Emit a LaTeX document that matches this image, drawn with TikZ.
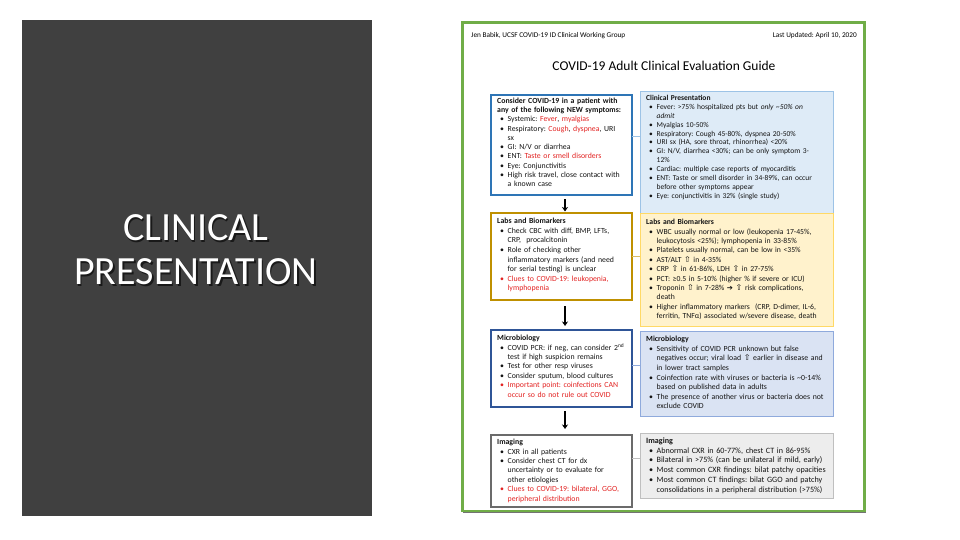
\documentclass[tikz,border=0pt]{standalone}
\usepackage{fontspec}
\setmainfont{Carlito}
\newfontfamily\symf{DejaVu Sans}
\usepackage{graphicx}
\usetikzlibrary{arrows.meta}
\definecolor{panel}{HTML}{404040}
\definecolor{frameg}{HTML}{70AD47}
\definecolor{lb1}{HTML}{2E75B6}
\definecolor{lb2}{HTML}{BF9000}
\definecolor{lb3}{HTML}{2F5597}
\definecolor{lb4}{HTML}{6B6B6B}
\definecolor{r1f}{HTML}{DEEBF7}\definecolor{r1d}{HTML}{9DC3E6}
\definecolor{r2f}{HTML}{FFF2CC}\definecolor{r2d}{HTML}{FFD966}
\definecolor{r3f}{HTML}{DAE3F3}\definecolor{r3d}{HTML}{8FAADC}
\definecolor{r4f}{HTML}{EDEDED}\definecolor{r4d}{HTML}{BFBFBF}
\definecolor{txtc}{HTML}{141414}
\definecolor{redt}{HTML}{E32322}
\frenchspacing
\newcommand{\nl}{\hfil\break}
\newcommand{\itm}{\par\hangindent=10.5pt\hangafter=1\noindent\makebox[10.5pt][l]{\hspace{3pt}\textbullet}}
\newcommand{\ritm}[1]{\par\hangindent=10.5pt\hangafter=1\noindent{\color{redt}\makebox[10.5pt][l]{\hspace{3pt}\textbullet}#1}}
\newcommand{\hd}[1]{\textbf{#1}}
\newcommand{\rd}[1]{\textcolor{redt}{#1}}
\newcommand{\upa}{{\symf\scalebox{1.05}{⇧}}}
\newcommand{\rar}{{\symf\scalebox{0.95}{➔}}}
\begin{document}
\begin{tikzpicture}[x=1pt,y=-1pt,
  box/.style={draw, anchor=north west, inner sep=0pt, outer sep=0pt},
  lbox/.style={box, line width=1.6pt, fill=white},
  rbox/.style={box, line width=0.8pt},
  txt/.style={inner sep=0pt, anchor=north west, align=left, text=txtc,
    font=\frenchspacing\fontsize{7.8}{9.4}\selectfont},
  ltxt/.style={txt, text width=134pt},
  rtxt/.style={txt, text width=186pt},
  flow/.style={line width=1.3pt, -{Stealth[length=4.5pt,width=6pt]}},
  conn/.style={line width=0.8pt}]
\useasboundingbox (0,0) rectangle (960,540);
\fill[white] (0,0) rectangle (960,540);
% left panel
\fill[panel] (22,20) rectangle (372,516);
\node[font=\fontsize{40}{44}\selectfont, text=black, opacity=0.6, align=center] (ptsh) at (197.5,251.5) {CLINICAL\\PRESENTATION};
\node[font=\fontsize{40}{44}\selectfont, text=white, align=center] (pt) at (196,250) {CLINICAL\\PRESENTATION};
% header
\node[font=\fontsize{7.3}{8}\selectfont, anchor=west, inner sep=0pt] (hl) at (471,36) {Jen Babik, UCSF COVID-19 ID Clinical Working Group};
\node[font=\fontsize{7.3}{8}\selectfont, anchor=east, inner sep=0pt] (hr) at (857,36) {Last Updated: April 10, 2020};
\node[font=\fontsize{13.5}{15}\selectfont, inner sep=0pt] (title) at (664,66) {COVID-19 Adult Clinical Evaluation Guide};
% right boxes
\node[rbox, fill=r1f, draw=r1d, minimum width=193pt, minimum height=122pt] (R1) at (640,91) {};
\node[rbox, fill=r2f, draw=r2d, minimum width=193pt, minimum height=113pt] (R2) at (640,213) {};
\node[rbox, fill=r3f, draw=r3d, minimum width=193pt, minimum height=85pt] (R3) at (640,331) {};
\node[rbox, fill=r4f, draw=r4d, minimum width=193pt, minimum height=65pt] (R4) at (640,433) {};
% left boxes
\node[lbox, draw=lb1, minimum width=141pt, minimum height=100pt] (L1) at (491,95) {};
\node[lbox, draw=lb2, minimum width=141pt, minimum height=87pt] (L2) at (491,213) {};
\node[lbox, draw=lb3, minimum width=141pt, minimum height=77pt] (L3) at (491,330) {};
\node[lbox, draw=lb4, minimum width=141pt, minimum height=72pt] (L4) at (491,435) {};
% connectors
\draw[conn, draw=r1d] ([yshift=9pt]L1.east) -- ([yshift=9pt]L1.east -| R1.west);
\draw[conn, draw=lb2!60] (L2.east) -- (L2.east -| R2.west);
\draw[conn, draw=r3d] ([yshift=3.5pt]L3.east) -- ([yshift=3.5pt]L3.east -| R3.west);
\draw[conn, draw=r4d] ([yshift=13pt]L4.east) -- ([yshift=13pt]L4.east -| R4.west);
% arrows
\draw[flow] ([xshift=3.5pt,yshift=-4pt]L1.south) -- ([xshift=3.5pt,yshift=1.5pt]L2.north);
\draw[flow] ([xshift=3.5pt,yshift=-6pt]L2.south) -- ([xshift=3.5pt,yshift=4pt]L3.north);
\draw[flow] ([xshift=3.5pt,yshift=-4pt]L3.south) -- ([xshift=3.5pt,yshift=6pt]L4.north);
% left texts
\node[ltxt, font=\fontsize{7.8}{9.3}\selectfont] (L1t) at ([xshift=6pt,yshift=-2.5pt]L1.north west) {%
\hd{Consider COVID-19 in a patient with\nl any of the following NEW symptoms:}
\itm Systemic: \rd{Fever}, \rd{myalgias}
\itm Respiratory: \rd{Cough}, \rd{dyspnea}, URI\nl sx
\itm GI: N/V or diarrhea
\itm ENT: \rd{Taste or smell disorders}
\itm Eye: Conjunctivitis
\itm High risk travel, close contact with\nl a known case\par};
\node[ltxt, font=\fontsize{7.8}{9.6}\selectfont] (L2t) at ([xshift=6pt,yshift=-5pt]L2.north west) {%
\hd{Labs and Biomarkers}
\itm Check CBC with diff, BMP, LFTs,\nl CRP,\ \ procalcitonin
\itm Role of checking other\nl inflammatory markers (and need\nl for serial testing) is unclear
\ritm{Clues to COVID-19: leukopenia,\nl lymphopenia}\par};
\node[ltxt] (L3t) at ([xshift=6pt,yshift=-5pt]L3.north west) {%
\hd{Microbiology}
\itm COVID PCR: if neg, can consider 2\textsuperscript{nd}\nl test if high suspicion remains
\itm Test for other resp viruses
\itm Consider sputum, blood cultures
\ritm{Important point: coinfections CAN\nl occur so do not rule out COVID}\par};
\node[ltxt] (L4t) at ([xshift=6pt,yshift=-4pt]L4.north west) {%
\hd{Imaging}
\itm CXR in all patients
\itm Consider chest CT for dx\nl uncertainty or to evaluate for\nl other etiologies
\ritm{Clues to COVID-19: bilateral, GGO,\nl peripheral distribution}\par};
% right texts
\node[rtxt, font=\fontsize{7.5}{8.9}\selectfont] (R1t) at ([xshift=6pt,yshift=-4pt]R1.north west) {%
\hd{Clinical Presentation}
\itm Fever: >75\% hospitalized pts but \textit{only \textasciitilde50\% on\nl admit}
\itm Myalgias 10-50\%
\itm Respiratory: Cough 45-80\%, dyspnea 20-50\%
\itm URI sx (HA, sore throat, rhinorrhea) <20\%
\itm GI: N/V, diarrhea <30\%; can be only symptom 3-\nl 12\%
\itm Cardiac: multiple case reports of myocarditis
\itm ENT: Taste or smell disorder in 34-89\%, can occur\nl before other symptoms appear
\itm Eye: conjunctivitis in 32\% (single study)\par};
\node[rtxt, font=\fontsize{7.7}{9.4}\selectfont] (R2t) at ([xshift=6pt,yshift=-6pt]R2.north west) {%
\hd{Labs and Biomarkers}
\itm WBC usually normal or low (leukopenia 17-45\%,\nl leukocytosis <25\%); lymphopenia in 33-85\%
\itm Platelets usually normal, can be low in <35\%
\itm AST/ALT \upa\ in 4-35\%
\itm CRP \upa\ in 61-86\%, LDH \upa\ in 27-75\%
\itm PCT: ≥0.5 in 5-10\% (higher \% if severe or ICU)
\itm Troponin \upa\ in 7-28\% \rar\ \upa\ risk complications,\nl death
\itm Higher inflammatory markers\ \ (CRP, D-dimer, IL-6,\nl ferritin, TNFα) associated w/severe disease, death\par};
\node[rtxt, font=\fontsize{7.8}{9.6}\selectfont] (R3t) at ([xshift=6pt,yshift=-5pt]R3.north west) {%
\hd{Microbiology}
\itm Sensitivity of COVID PCR unknown but false\nl negatives occur; viral load \upa\ earlier in disease and\nl in lower tract samples
\itm Coinfection rate with viruses or bacteria is \textasciitilde0-14\%\nl based on published data in adults
\itm The presence of another virus or bacteria does not\nl exclude COVID\par};
\node[rtxt, font=\fontsize{8.1}{9.8}\selectfont] (R4t) at ([xshift=6pt,yshift=-4.5pt]R4.north west) {%
\hd{Imaging}
\itm Abnormal CXR in 60-77\%, chest CT in 86-95\%
\itm Bilateral in >75\% (can be unilateral if mild, early)
\itm Most common CXR findings: bilat patchy opacities
\itm Most common CT findings: bilat GGO and patchy\nl consolidations in a peripheral distribution (>75\%)\par};
% frame
\draw[black!55, line width=1.2pt] (463,512.6) -- (866,512.6);
\draw[frameg, line width=2.6pt] (462.5,22.5) rectangle (864.5,511);
\end{tikzpicture}
\end{document}
